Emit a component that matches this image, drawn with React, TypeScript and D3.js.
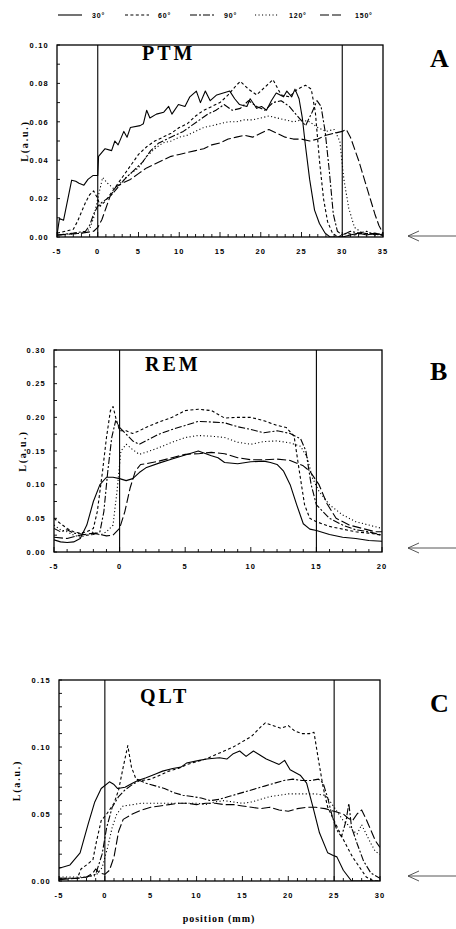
import React from 'react';
import * as d3 from 'd3';

// ---------- DATA ----------
const ANGLES = ['30°', '60°', '90°', '120°', '150°'];

const PTM_30 = [[-5,0.001],[-4.7,0.0096],[-4.2,0.0087],[-3.2,0.0296],[-2.7,0.029],[-2.3,0.028],[-1.7,0.027],[-1.2,0.03],[-0.6,0.032],[0,0.032],[0.1,0.042],[0.9,0.046],[1.7,0.045],[2.1,0.05],[2.5,0.048],[3.2,0.055],[3.6,0.052],[4,0.057],[5.2,0.058],[5.6,0.059],[6,0.066],[6.4,0.062],[7.2,0.064],[8.1,0.065],[8.7,0.068],[9.1,0.064],[9.9,0.069],[10.7,0.068],[11.3,0.073],[12.1,0.076],[12.6,0.07],[13.2,0.076],[13.8,0.071],[14.6,0.074],[15.4,0.075],[16.2,0.076],[16.8,0.072],[17.4,0.069],[18.3,0.068],[18.7,0.072],[19.5,0.067],[20.1,0.068],[20.7,0.066],[21.3,0.071],[21.9,0.075],[22.8,0.073],[23.2,0.076],[23.8,0.073],[24.2,0.077],[24.7,0.072],[25.1,0.062],[25.5,0.047],[26,0.03],[26.6,0.014],[27.2,0.007],[27.9,0.002],[28.5,0],[30,0],[31,0.001],[32,0.002],[33,0.001],[34,0.002],[35,0.001]];
const PTM_60 = [[-5,0.002],[-4,0.003],[-3,0.004],[-2.5,0.008],[-2,0.013],[-1.5,0.018],[-1,0.022],[-0.5,0.024],[0,0.02],[0.3,0.016],[1,0.019],[2,0.025],[3,0.031],[4,0.037],[5,0.043],[6,0.047],[7,0.05],[8,0.052],[9,0.054],[10,0.057],[11,0.059],[12,0.063],[13,0.066],[14,0.068],[15,0.07],[16,0.074],[17,0.079],[17.5,0.081],[18.5,0.077],[19.5,0.074],[20.5,0.078],[21.5,0.082],[22.5,0.074],[23.5,0.073],[24.5,0.077],[25.5,0.079],[26.2,0.077],[26.7,0.065],[27.2,0.04],[27.7,0.02],[28.2,0.008],[28.8,0.002],[29.5,0],[30.5,0.002],[31.5,0.001],[32.5,0.002],[35,0.001]];
const PTM_90 = [[-5,0.001],[-3,0.002],[-1.5,0.003],[-1,0.006],[-0.5,0.012],[0,0.016],[0.5,0.018],[1.5,0.021],[2.5,0.026],[3.5,0.031],[4.5,0.035],[5.5,0.039],[6.5,0.045],[7.5,0.049],[8.5,0.051],[9.5,0.053],[10.5,0.055],[11.5,0.058],[12.5,0.061],[13.5,0.064],[14.5,0.066],[15.5,0.069],[16.5,0.066],[17.5,0.067],[18.5,0.071],[19.5,0.068],[20.5,0.066],[21.5,0.07],[22.5,0.071],[23.5,0.068],[24.5,0.063],[25.5,0.058],[26.3,0.065],[26.9,0.071],[27.4,0.068],[27.9,0.055],[28.4,0.035],[28.9,0.012],[29.4,0.003],[30,0.001],[31,0.003],[32,0.002],[33,0.003],[34,0.001],[35,0.002]];
const PTM_120 = [[-5,0.001],[-2,0.002],[-1,0.004],[-0.5,0.01],[0,0.02],[0.6,0.031],[1.2,0.028],[2,0.025],[3,0.029],[4,0.033],[5,0.036],[6,0.042],[7,0.046],[8,0.049],[9,0.05],[10,0.052],[11,0.053],[12,0.055],[13,0.057],[14,0.058],[15,0.059],[16,0.06],[17,0.06],[18,0.061],[19,0.061],[20,0.062],[21,0.063],[22,0.062],[23,0.061],[24,0.06],[25,0.061],[26,0.06],[27,0.057],[28,0.055],[29,0.056],[29.7,0.05],[30.2,0.03],[30.8,0.015],[31.5,0.005],[32.5,0.002],[35,0.001]];
const PTM_150 = [[-5,0.001],[-2,0.002],[-0.5,0.003],[0,0.005],[0.5,0.009],[1,0.015],[1.5,0.021],[2.2,0.026],[3,0.028],[4,0.03],[5,0.033],[6,0.036],[7,0.038],[8,0.04],[9,0.042],[10,0.043],[11,0.044],[12,0.045],[13,0.046],[14,0.048],[15,0.049],[16,0.051],[17,0.052],[18,0.053],[19,0.052],[20,0.054],[21,0.056],[22,0.054],[23,0.052],[24,0.051],[25,0.051],[26,0.05],[27,0.051],[28,0.053],[29,0.054],[30,0.055],[30.5,0.056],[31,0.052],[31.5,0.046],[32,0.04],[32.5,0.033],[33,0.026],[33.5,0.019],[34,0.012],[34.5,0.006],[35,0.002]];

const REM_30 = [[-5,0.018],[-4.5,0.015],[-4,0.014],[-3.5,0.015],[-3,0.02],[-2.5,0.04],[-2,0.075],[-1.5,0.1],[-1,0.111],[-0.5,0.111],[0,0.109],[0.5,0.106],[1,0.109],[1.5,0.118],[2,0.125],[3,0.132],[4,0.138],[5,0.144],[6,0.15],[7,0.143],[7.5,0.14],[8,0.133],[9,0.131],[10,0.134],[11,0.135],[11.5,0.133],[12,0.13],[12.5,0.12],[13,0.1],[13.5,0.07],[14,0.042],[14.5,0.034],[15,0.032],[16,0.026],[17,0.022],[18,0.02],[19,0.017],[20,0.016]];
const REM_60 = [[-5,0.05],[-4.5,0.042],[-4,0.035],[-3.5,0.03],[-3,0.028],[-2.5,0.03],[-2,0.035],[-1.7,0.06],[-1.3,0.12],[-1,0.17],[-0.7,0.21],[-0.5,0.216],[-0.3,0.2],[0,0.18],[0.5,0.18],[1,0.176],[1.5,0.18],[2,0.185],[3,0.193],[4,0.2],[5,0.21],[6,0.212],[7,0.21],[8,0.199],[9,0.2],[10,0.2],[11,0.195],[12,0.188],[12.7,0.185],[13.3,0.172],[13.7,0.12],[14.1,0.07],[14.5,0.05],[15,0.045],[16,0.038],[17,0.034],[18,0.03],[19,0.028],[20,0.025]];
const REM_90 = [[-5,0.035],[-4.5,0.03],[-4,0.033],[-3.5,0.028],[-3,0.027],[-2.5,0.025],[-2,0.026],[-1.5,0.03],[-1.2,0.06],[-0.9,0.12],[-0.6,0.17],[-0.3,0.195],[0,0.185],[0.5,0.175],[1,0.165],[1.5,0.16],[2,0.165],[3,0.175],[4,0.182],[5,0.188],[6,0.194],[7,0.193],[8,0.192],[9,0.186],[10,0.182],[11,0.177],[12,0.18],[13,0.176],[13.8,0.168],[14.2,0.15],[14.6,0.1],[15,0.07],[15.5,0.06],[16,0.05],[17,0.04],[18,0.033],[19,0.03],[20,0.025]];
const REM_120 = [[-5,0.04],[-4.5,0.033],[-4,0.03],[-3.5,0.025],[-3,0.022],[-2.5,0.025],[-2,0.03],[-1.5,0.025],[-1,0.03],[-0.5,0.04],[-0.2,0.09],[0.1,0.15],[0.5,0.16],[1,0.152],[1.5,0.145],[2,0.148],[3,0.155],[4,0.163],[5,0.17],[6,0.173],[7,0.172],[8,0.17],[9,0.163],[10,0.16],[11,0.164],[12,0.165],[13,0.162],[13.8,0.157],[14.3,0.14],[14.7,0.11],[15.2,0.09],[16,0.07],[17,0.055],[18,0.045],[19,0.04],[20,0.035]];
const REM_150 = [[-5,0.022],[-4,0.02],[-3,0.025],[-2,0.028],[-1,0.024],[-0.5,0.025],[0,0.035],[0.4,0.06],[0.8,0.095],[1.2,0.12],[1.6,0.13],[2,0.131],[3,0.135],[4,0.14],[5,0.145],[6,0.146],[7,0.148],[8,0.146],[9,0.14],[10,0.137],[11,0.137],[12,0.138],[13,0.136],[14,0.128],[14.5,0.12],[15.2,0.1],[15.8,0.072],[16.5,0.05],[17.5,0.04],[18.5,0.035],[19.5,0.03],[20,0.03]];

const QLT_30 = [[-5,0.0095],[-3.8,0.012],[-2.7,0.021],[-1.8,0.043],[-1.1,0.059],[-0.4,0.069],[0.5,0.074],[1,0.072],[1.4,0.069],[2.2,0.07],[3,0.073],[3.6,0.075],[4.5,0.077],[5.6,0.08],[6.3,0.082],[7.4,0.084],[8.3,0.085],[8.9,0.088],[10.3,0.09],[11.1,0.091],[12.5,0.092],[13.3,0.091],[14,0.095],[14.7,0.097],[15.4,0.093],[16.2,0.097],[16.9,0.094],[17.6,0.091],[18.3,0.089],[19,0.087],[19.6,0.09],[20.2,0.083],[21.3,0.079],[22,0.073],[22.7,0.055],[23.4,0.036],[24.3,0.021],[24.9,0.019],[25.3,0.018],[26,0.008],[26.9,0],[30,0]];
const QLT_60 = [[-5,0.002],[-3,0.002],[-2.6,0.009],[-1.8,0.013],[-1.3,0.016],[-0.9,0.03],[-0.4,0.045],[0.2,0.05],[1,0.058],[1.5,0.068],[2,0.085],[2.5,0.101],[2.9,0.085],[3.4,0.076],[4,0.075],[5,0.076],[6,0.079],[7,0.082],[8,0.084],[9,0.087],[10,0.089],[11,0.091],[12,0.094],[13,0.097],[14,0.1],[15,0.104],[16,0.108],[17,0.115],[17.5,0.118],[18.3,0.116],[19.2,0.114],[20,0.116],[20.7,0.112],[21.5,0.11],[22.3,0.11],[22.8,0.111],[23.3,0.09],[23.8,0.07],[24.3,0.055],[25,0.045],[25.7,0.035],[26.3,0.027],[27,0.018],[27.8,0.01],[28.5,0.003],[29.3,0],[30,0]];
const QLT_90 = [[-5,0.002],[-3,0.002],[-2,0.003],[-1,0.005],[-0.3,0.02],[0.2,0.04],[0.8,0.055],[1.5,0.063],[2.2,0.068],[3,0.072],[3.8,0.075],[4.5,0.073],[5.5,0.071],[6.5,0.069],[7.5,0.066],[8.5,0.064],[9.5,0.063],[10.5,0.062],[11.5,0.06],[12.5,0.061],[13.5,0.063],[14.5,0.065],[15.5,0.067],[16.5,0.069],[17.5,0.071],[18.5,0.073],[19.5,0.075],[20.5,0.076],[21.5,0.075],[22.5,0.075],[23.3,0.076],[23.8,0.073],[24.3,0.062],[24.8,0.048],[25.3,0.038],[25.8,0.033],[26.3,0.045],[26.6,0.058],[26.9,0.04],[27.5,0.028],[28.2,0.015],[29,0.006],[30,0.002]];
const QLT_120 = [[-5,0.003],[-2,0.003],[-1,0.004],[-0.3,0.01],[0.3,0.025],[0.8,0.04],[1.3,0.05],[2,0.056],[3,0.057],[4,0.058],[5,0.058],[6,0.058],[7,0.058],[8,0.058],[9,0.058],[10,0.058],[11,0.057],[12,0.059],[13,0.06],[14,0.059],[15,0.058],[16,0.059],[17,0.061],[18,0.063],[19,0.064],[20,0.065],[21,0.065],[22,0.065],[23,0.065],[24,0.064],[24.5,0.06],[25,0.055],[25.5,0.05],[26,0.045],[26.5,0.042],[27,0.038],[27.5,0.035],[28,0.042],[28.5,0.035],[29,0.028],[29.5,0.022],[30,0.02]];
const QLT_150 = [[-5,0.001],[-3,0.002],[-2,0.003],[-1.3,0.006],[-1,0.009],[-0.6,0.006],[0,0.005],[0.5,0.008],[1,0.018],[1.5,0.037],[2,0.046],[3,0.05],[4,0.053],[5,0.055],[6,0.056],[7,0.057],[8,0.058],[9,0.058],[10,0.057],[11,0.058],[12,0.058],[13,0.057],[14,0.057],[15,0.056],[16,0.055],[17,0.054],[18,0.055],[19,0.053],[20,0.052],[21,0.054],[22,0.055],[23,0.055],[24,0.054],[25,0.052],[26,0.05],[26.5,0.047],[27,0.045],[27.5,0.05],[28,0.053],[28.5,0.046],[29,0.038],[29.5,0.03],[30,0.025]];

const PTM_X_TICKS = [-5, 0, 5, 10, 15, 20, 25, 30, 35];
const PTM_Y_TICKS = [0, 0.02, 0.04, 0.06, 0.08, 0.1];
const REM_X_TICKS = [-5, 0, 5, 10, 15, 20];
const REM_Y_TICKS = [0, 0.05, 0.1, 0.15, 0.2, 0.25, 0.3];
const QLT_X_TICKS = [-5, 0, 5, 10, 15, 20, 25, 30];
const QLT_Y_TICKS = [0, 0.05, 0.1, 0.15];

const PTM_MARKERS = [0, 30];
const REM_MARKERS = [0, 15];
const QLT_MARKERS = [0, 25];

const TITLES = ['PTM', 'REM', 'QLT'];
const LETTERS = ['A', 'B', 'C'];
const Y_LABEL = 'L(a.u.)';
const X_LABEL = 'position (mm)';

// ---------- STYLE / LAYOUT ----------
const DASHES = ['', '3,2.4', '7,2,2,2', '1.1,2.4', '9,3'];
const SANS = '"Liberation Sans", Arial, sans-serif';
const SERIF = '"Liberation Serif", "Times New Roman", serif';

const PANELS = [
  { series: [PTM_30, PTM_60, PTM_90, PTM_120, PTM_150], xTicks: PTM_X_TICKS, yTicks: PTM_Y_TICKS, yMinor: 0.01, markers: PTM_MARKERS, title: TITLES[0], letter: LETTERS[0],
    box: { l: 57, r: 383, t: 45, b: 237 }, ylx: 24, titleX: 142, titleY: 60, letterY: 67, arrowY: 236 },
  { series: [REM_30, REM_60, REM_90, REM_120, REM_150], xTicks: REM_X_TICKS, yTicks: REM_Y_TICKS, yMinor: 0.025, markers: REM_MARKERS, title: TITLES[1], letter: LETTERS[1],
    box: { l: 54, r: 382, t: 350, b: 552 }, ylx: 22, titleX: 145, titleY: 371, letterY: 380, arrowY: 548 },
  { series: [QLT_30, QLT_60, QLT_90, QLT_120, QLT_150], xTicks: QLT_X_TICKS, yTicks: QLT_Y_TICKS, yMinor: 0.01, markers: QLT_MARKERS, title: TITLES[2], letter: LETTERS[2],
    box: { l: 59, r: 380, t: 680, b: 881 }, ylx: 16, titleX: 140, titleY: 703, letterY: 712, arrowY: 876 },
];

function Panel({ p, idx }: { p: any; idx: number }) {
  const { box } = p;
  const xDom = d3.extent(p.xTicks) as [number, number];
  const yDom = d3.extent(p.yTicks) as [number, number];
  const x = d3.scaleLinear().domain(xDom).range([box.l, box.r]);
  const y = d3.scaleLinear().domain(yDom).range([box.b, box.t]);
  const line = d3.line<number[]>().x(d => x(d[0])).y(d => y(d[1])).curve(d3.curveLinear);
  const fmt = d3.format('.2f');
  const xMinor = d3.range(xDom[0], xDom[1] + 0.001, 1);
  const nMinorY = Math.round((yDom[1] - yDom[0]) / p.yMinor);
  const yMinor = d3.range(0, nMinorY + 1).map(i => yDom[0] + i * p.yMinor);
  const clipId = `clip${idx}`;
  const ax = 408;
  return (
    <g>
      <defs>
        <clipPath id={clipId}>
          <rect x={box.l} y={box.t - 2} width={box.r - box.l} height={box.b - box.t + 2} />
        </clipPath>
      </defs>
      {/* x minor ticks */}
      {xMinor.map((v, i) => {
        const major = Math.abs(v % 5) < 1e-6;
        return <line key={'xm' + i} x1={x(v)} x2={x(v)} y1={box.b} y2={box.b - (major ? 5 : 3)} stroke="#000" strokeWidth={0.9} />;
      })}
      {yMinor.map((v, i) => (
        <line key={'ym' + i} x1={box.l} x2={box.l + 3} y1={y(v)} y2={y(v)} stroke="#000" strokeWidth={0.9} />
      ))}
      {/* series */}
      <g clipPath={`url(#${clipId})`}>
        {p.series.map((s: number[][], i: number) => (
          <path key={i} d={line(s) || ''} fill="none" stroke="#000" strokeWidth={1.1}
            strokeDasharray={DASHES[i] || undefined} strokeLinejoin="round" />
        ))}
      </g>
      {/* markers */}
      {p.markers.map((m: number, i: number) => (
        <line key={'mk' + i} x1={x(m)} x2={x(m)} y1={box.t} y2={box.b} stroke="#000" strokeWidth={1.1} />
      ))}
      {/* frame */}
      <rect x={box.l} y={box.t} width={box.r - box.l} height={box.b - box.t} fill="none" stroke="#000" strokeWidth={1.3} />
      {/* tick labels */}
      {p.xTicks.map((v: number, i: number) => (
        <text key={'xl' + i} x={x(v)} y={box.b + 17} textAnchor="middle" fontFamily={SANS} fontWeight="bold" fontSize={7.5} letterSpacing={1.2}>{String(v)}</text>
      ))}
      {p.yTicks.map((v: number, i: number) => (
        <text key={'yl' + i} x={box.l - 8} y={y(v) + 2.7} textAnchor="end" fontFamily={SANS} fontWeight="bold" fontSize={7.5} letterSpacing={1.2}>{fmt(v)}</text>
      ))}
      {/* y label */}
      <text transform={`translate(${p.ylx},${(box.t + box.b) / 2}) rotate(-90)`} textAnchor="middle" dy="0.35em"
        fontFamily={SERIF} fontWeight="bold" fontSize={10} letterSpacing={1.8}>{Y_LABEL}</text>
      {/* title */}
      <text x={p.titleX} y={p.titleY} fontFamily={SERIF} fontWeight="bold" fontSize={20} letterSpacing={3}>{p.title}</text>
      {/* panel letter */}
      <text x={430} y={p.letterY} fontFamily={SERIF} fontWeight="bold" fontSize={26}>{p.letter}</text>
      {/* arrow */}
      <g stroke="#444" strokeWidth={0.9} fill="none">
        <line x1={ax} x2={456} y1={p.arrowY} y2={p.arrowY} />
        <polyline points={`${ax + 11},${p.arrowY - 5} ${ax},${p.arrowY} ${ax + 11},${p.arrowY + 5}`} />
      </g>
    </g>
  );
}

export default function App() {
  const legendX = [58, 125, 190, 255, 320];
  const legendTextX = [92, 158, 224, 289, 355];
  const ly = 15;
  return (
    <svg width={456} height={929} viewBox="0 0 456 929" style={{ position: 'absolute', left: 0, top: 0, background: '#fff' }}>
      <rect x={0} y={0} width={456} height={929} fill="#fff" />
      {ANGLES.map((a, i) => (
        <g key={a}>
          <line x1={legendX[i]} x2={legendX[i] + 24} y1={ly} y2={ly} stroke="#000" strokeWidth={1.1} strokeDasharray={DASHES[i] || undefined} />
          <text x={legendTextX[i]} y={ly + 2.5} fontFamily={SANS} fontWeight="bold" fontSize={7} letterSpacing={0.8}>{a}</text>
        </g>
      ))}
      {PANELS.map((p, i) => <Panel key={i} p={p} idx={i} />)}
      <text x={219} y={922} textAnchor="middle" fontFamily={SERIF} fontWeight="bold" fontSize={10} letterSpacing={1}>{X_LABEL}</text>
    </svg>
  );
}
